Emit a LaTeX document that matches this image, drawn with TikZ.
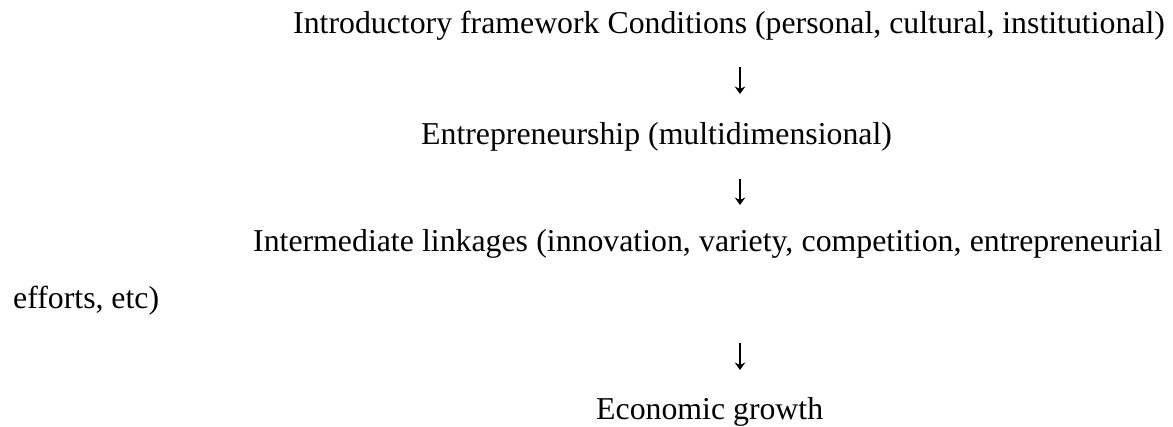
\documentclass[tikz,border=0pt]{standalone}
\usepackage{fontspec}
\setmainfont{Liberation Serif}
\usetikzlibrary{arrows.meta}
\begin{document}
\begin{tikzpicture}[x=1pt,y=-1pt,
  line/.style={anchor=base west,inner sep=0pt,font=\fontsize{31.8}{38}\selectfont},
  downarrow/.style={line width=1.05pt,-{Stealth[length=7.5pt,width=10.5pt,inset=2.5pt]}}]
  \useasboundingbox[fill=white] (0,0) rectangle (1173,427);
  % the chain of stages, one line each
  \node[line] (cond) at (293,34) {Introductory framework Conditions (personal, cultural, institutional)};
  \node[line] (entr) at (421,145) {Entrepreneurship (multidimensional)};
  \node[line] (link) at (253,252) {\makebox[909pt][s]{Intermediate linkages (innovation, variety, competition, entrepreneurial}};
  \node[line] (linkb) at (13,309) {efforts, etc)};
  \node[line] (grow) at (596,420) {Economic growth};
  % short downward arrows between the stages
  \coordinate (a1s) at (740,67);  \coordinate (a1e) at (740,94);
  \coordinate (a2s) at (740,179); \coordinate (a2e) at (740,205);
  \coordinate (a3s) at (740,343); \coordinate (a3e) at (740,370);
  \draw[downarrow] (a1s) -- (a1e);
  \draw[downarrow] (a2s) -- (a2e);
  \draw[downarrow] (a3s) -- (a3e);
\end{tikzpicture}
\end{document}
